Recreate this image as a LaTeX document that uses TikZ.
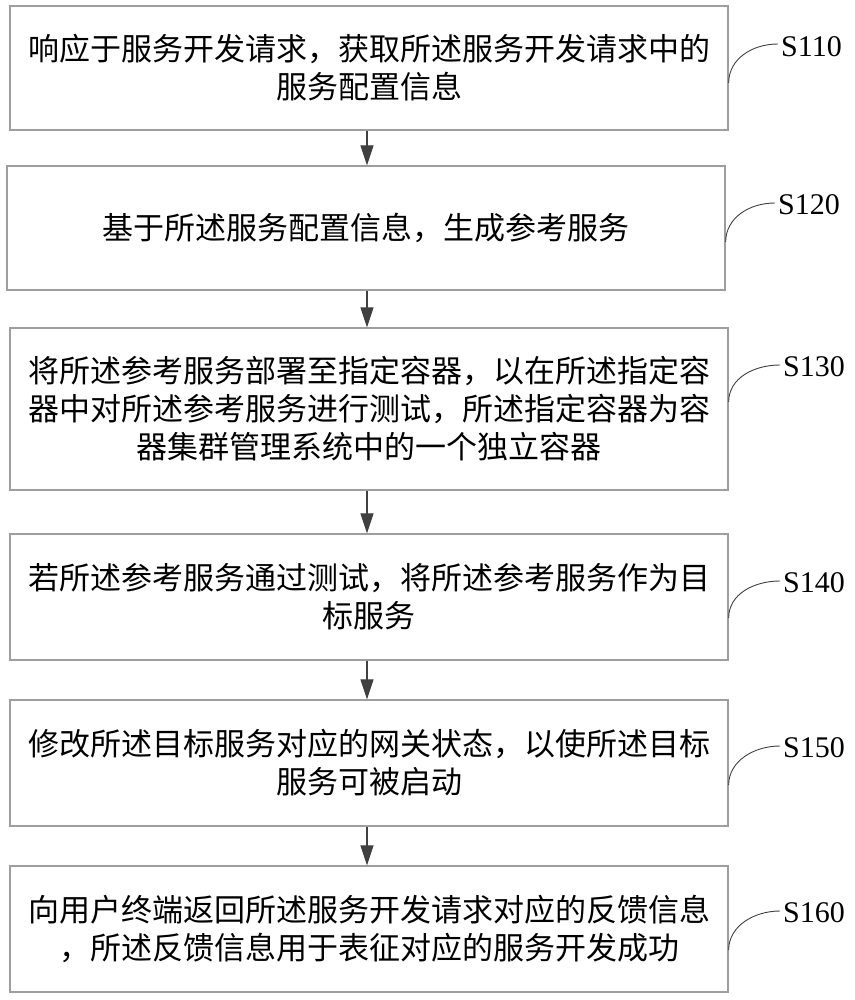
\documentclass[tikz,border=0pt]{standalone}
\usepackage{fontspec}
\setmainfont{Liberation Serif}
\newfontfamily\cjk{Noto Sans CJK SC}
\usetikzlibrary{arrows.meta}
\tikzset{
  stepbox/.style={draw=black!38, line width=1.3pt, inner sep=0pt, minimum width=718pt,
    align=center, font=\cjk\fontsize{31}{38}\selectfont},
  flow/.style={draw=black!75, line width=1.2pt, -{Triangle[length=20pt,width=13pt]}},
  lead/.style={draw=black!75, line width=0.9pt},
  slabel/.style={inner sep=0pt, anchor=west, font=\fontsize{30}{34}\selectfont}
}
\begin{document}
\begin{tikzpicture}[x=1pt,y=-1pt]
\useasboundingbox (0,0) rectangle (854,1000);
\node[stepbox, minimum height=124pt] (b1) at (369,68) {响应于服务开发请求，获取所述服务开发请求中的\\服务配置信息};
\node[stepbox, minimum height=124pt] (b2) at (366,228) {基于所述服务配置信息，生成参考服务};
\node[stepbox, minimum height=162pt] (b3) at (369,409) {将所述参考服务部署至指定容器，以在所述指定容\\器中对所述参考服务进行测试，所述指定容器为容\\器集群管理系统中的一个独立容器};
\node[stepbox, minimum height=126pt] (b4) at (369,597) {若所述参考服务通过测试，将所述参考服务作为目\\标服务};
\node[stepbox, minimum height=126pt] (b5) at (369,763) {修改所述目标服务对应的网关状态，以使所述目标\\服务可被启动};
\node[stepbox, minimum height=126pt] (b6) at (369,929) {向用户终端返回所述服务开发请求对应的反馈信息\\，所述反馈信息用于表征对应的服务开发成功};

\coordinate (ax) at (367,0);
\draw[flow] (b1.south -| ax) -- (b2.north -| ax);
\draw[flow] (b2.south -| ax) -- (b3.north -| ax);
\draw[flow] (b3.south -| ax) -- (b4.north -| ax);
\draw[flow] (b4.south -| ax) -- (b5.north -| ax);
\draw[flow] (b5.south -| ax) -- (b6.north -| ax);

\node[slabel] (s1) at (781,47) {S110};
\node[slabel] (s2) at (778,205) {S120};
\node[slabel] (s3) at (783,367) {S130};
\node[slabel] (s4) at (783,583) {S140};
\node[slabel] (s5) at (783,748) {S150};
\node[slabel] (s6) at (783,913) {S160};

\draw[lead] ([yshift=-15pt]b1.east) .. controls +(0,-24) and +(-26,0) .. ([xshift=-3pt,yshift=3pt]s1.west);
\draw[lead] ([yshift=-14pt]b2.east) .. controls +(0,-24) and +(-26,0) .. ([xshift=-3pt,yshift=2pt]s2.west);
\draw[lead] ([yshift=7pt]b3.east) .. controls +(0,-24) and +(-26,0) .. ([xshift=-3pt,yshift=2pt]s3.west);
\draw[lead] ([yshift=-21pt]b4.east) .. controls +(0,-24) and +(-26,0) .. ([xshift=-3pt,yshift=2pt]s4.west);
\draw[lead] ([yshift=-22pt]b5.east) .. controls +(0,-24) and +(-26,0) .. ([xshift=-3pt,yshift=2pt]s5.west);
\draw[lead] ([yshift=-21pt]b6.east) .. controls +(0,-24) and +(-26,0) .. ([xshift=-3pt,yshift=2pt]s6.west);
\end{tikzpicture}
\end{document}
